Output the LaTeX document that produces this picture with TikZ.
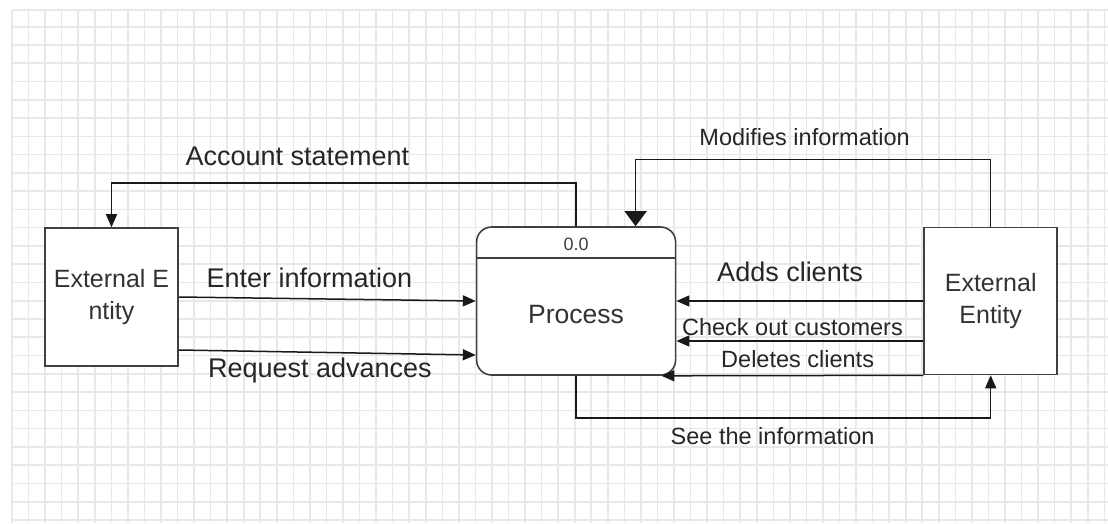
\documentclass[tikz,border=0pt]{standalone}
\usepackage{fontspec}
\setmainfont{Liberation Sans}
\usetikzlibrary{positioning, arrows.meta}
\tikzset{
    >={Triangle[length=13pt,width=11pt]}, % solid arrow heads
    flow/.style={->, line width=1.5pt, draw=black!90}, % data flows between the boxes
    gridline/.style={line width=1.6pt, draw=black!9}, % the paper grid
    entity/.style={draw=black!75, line width=1.6pt, fill=white, minimum width=133pt, minimum height=138pt, inner sep=0pt, align=center, text=black!80, font=\fontsize{25}{32}\selectfont}, % external entities
    process/.style={draw=black!75, line width=1.6pt, fill=white, rounded corners=15pt, minimum width=199pt, minimum height=148pt, inner sep=0pt}, % the process box
    biglbl/.style={font=\fontsize{27}{30}\selectfont, text=black!85, inner sep=0pt}, % large flow labels
    smalllbl/.style={font=\fontsize{23.5}{26}\selectfont, text=black!85, inner sep=0pt}, % small flow labels
}

\begin{document}
\begin{tikzpicture}[x=1pt, y=-1pt]
            \useasboundingbox (0,0) rectangle (1108,523);
            \fill[white] (0,0) rectangle (1108,523);
            % grid
            \foreach \i in {0,...,66}
                \draw[gridline] (12+16.55*\i,10) -- (12+16.55*\i,523);
            \draw[gridline] (12,10) -- (1108,10);
            \foreach \j in {0,...,27}
                \draw[gridline] (12,26.7+18.27*\j) -- (1108,26.7+18.27*\j);

            \node[entity] (ext1) at (111.5,297) {External E\\ntity};
            \node[process, right=297pt of ext1, yshift=-4pt] (proc) {};
            \node[entity, minimum height=147pt, right=247pt of proc] (ext2) {External\\Entity};

            \draw[draw=black!75, line width=1.5pt] ([yshift=-32pt]proc.north west) -- ([yshift=-32pt]proc.north east);
            \node[font=\fontsize{18}{20}\selectfont, text=black!75] (procid) at ([yshift=-18pt]proc.north) {0.0};
            \node[font=\fontsize{26.5}{30}\selectfont, text=black!80] (proctext) at ([yshift=-14pt]proc.center) {Process};

            \draw[flow] (proc.north) -- ++(0,-43) -| node[biglbl, pos=0.3, yshift=27pt] (acctlbl) {Account statement} (ext1.north);
            \draw[flow, -{Triangle[length=15pt,width=22pt]}] (ext2.north) -- ++(0,-67) -| node[smalllbl, pos=0.262, yshift=23pt] (modlbl) {Modifies information} ([xshift=59.5pt]proc.north);
            \draw[flow] (ext1.east) -- node[biglbl, pos=0.44, yshift=21pt] (enterlbl) {Enter information} (proc.west);
            \draw[flow] ([yshift=-53pt]ext1.east) -- node[biglbl, pos=0.475, yshift=-18pt] (reqlbl) {Request advances} ([yshift=-54pt]proc.west);
            \draw[flow] (ext2.west) -- node[biglbl, pos=0.54, yshift=29pt] (addlbl) {Adds clients} (proc.east);
            \draw[flow] ([yshift=-40pt]ext2.west) -- node[smalllbl, pos=0.53, yshift=13.5pt] (checklbl) {Check out customers} ([yshift=-40pt]proc.east);
            \draw[flow] (ext2.south west) -- node[smalllbl, pos=0.48, yshift=16pt] (dellbl) {Deletes clients} ([xshift=-15pt]proc.south east);
            \draw[flow] (proc.south) -- ++(0,42) -| node[smalllbl, pos=0.237, yshift=-18pt] (seelbl) {See the information} (ext2.south);
        \end{tikzpicture}
\end{document}
